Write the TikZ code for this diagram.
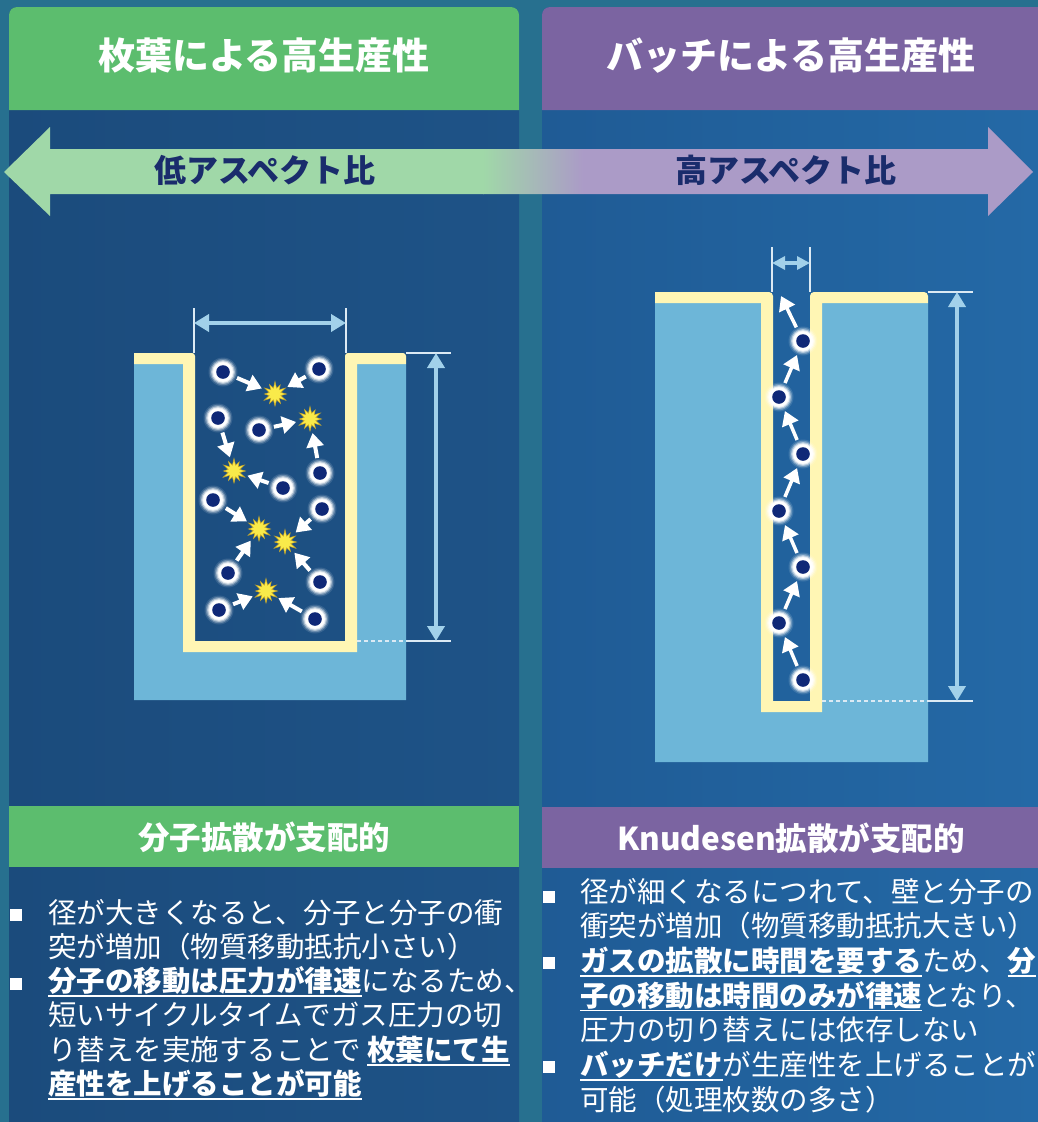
\documentclass[tikz,border=0pt]{standalone}
\usepackage{fontspec}
\setmainfont{Noto Sans CJK JP}
\usetikzlibrary{arrows.meta}

\definecolor{bgC}{HTML}{27708F}
\definecolor{lpA}{HTML}{1B4B7C}
\definecolor{lpB}{HTML}{1E5387}
\definecolor{rpA}{HTML}{1F5B95}
\definecolor{rpB}{HTML}{2469A6}
\definecolor{grnC}{HTML}{5CBD6E}
\definecolor{purC}{HTML}{7B64A1}
\definecolor{arrG}{HTML}{A0D8A8}
\definecolor{arrP}{HTML}{AB9BC7}
\definecolor{navyC}{HTML}{1A2C6C}
\definecolor{subC}{HTML}{6DB6D8}
\definecolor{creamC}{HTML}{FFF6B4}
\definecolor{dimC}{HTML}{A2D1EA}
\definecolor{extC}{HTML}{DCEAF4}
\definecolor{molC}{HTML}{0F2877}
\definecolor{starY}{HTML}{F9EA4A}
\definecolor{starE}{HTML}{C9A626}

% bold, underlined emphasis
\newsavebox\hlbox
\newcommand\hl[1]{\sbox\hlbox{\bfseries #1}\rlap{\rule[-5.3pt]{\wd\hlbox}{1.6pt}}\usebox\hlbox}

\begin{document}
\begin{tikzpicture}[x=1pt,y=-1pt,
  hdr/.style={anchor=base, text=white, inner sep=0pt, font=\bfseries\fontsize{37}{44}\selectfont},
  lbl/.style={anchor=base, text=navyC, inner sep=0pt, font=\bfseries\fontsize{32}{38}\selectfont},
  sub/.style={anchor=base, text=white, inner sep=0pt, font=\bfseries\fontsize{31.5}{38}\selectfont},
  body/.style={anchor=base west, text=white, inner sep=0pt, font=\fontsize{28.5}{34}\selectfont},
  bullet/.style={fill=white, minimum size=11.5pt, inner sep=0pt},
  mol/.style={circle, inner sep=0pt, minimum size=30pt, path picture={
    \foreach \r/\o in {14.5/0.12,13.2/0.25,12/0.45,10.8/0.7,9.8/1}{
      \fill[white, opacity=\o] (path picture bounding box.center) circle[radius=\r];}
    \fill[molC] (path picture bounding box.center) circle[radius=6.8];}},
  starb/.style={circle, inner sep=0pt, minimum size=28pt, path picture={
    \fill[starY, draw=starE, line width=0.5pt, shift={(path picture bounding box.center)}]
      (90:12) \foreach \k/\r in {1/6,2/11,3/6,4/12.5,5/6,6/10.5,7/6,8/12,9/6,10/11,11/6,12/12.5,13/6,14/10.5,15/6,16/12,17/6,18/11.5,19/6,20/12.5,21/6,22/11,23/6}{ -- ({90+\k*15}:\r) } -- cycle;}},
  molarr/.style={draw=white, line width=4pt, -{Triangle[width=17pt,length=14pt]}},
  dimarr/.style={draw=dimC, line width=4pt, {Triangle[width=17pt,length=15pt]}-{Triangle[width=17pt,length=15pt]}},
  dimsm/.style={draw=dimC, line width=3.5pt, {Triangle[width=13pt,length=13pt]}-{Triangle[width=13pt,length=13pt]}},
  ext/.style={draw=extC, line width=1.2pt},
  extd/.style={ext, dash pattern=on 4pt off 3pt}
]
\useasboundingbox (0,0) rectangle (1038,1122);

% background and the two columns
\fill[bgC] (0,0) rectangle (1038,1122);
\shade[left color=lpA, right color=lpB] (9,1122) [rounded corners=8pt] -- (9,7) -- (519,7) -- (519,60) [sharp corners] -- (519,1122) -- cycle;
\shade[left color=rpA, right color=rpB] (1038,1122) -- (1038,7) [rounded corners=8pt] -- (542,7) -- (542,60) [sharp corners] -- (542,1122) -- cycle;
\fill[grnC] (9,110) [rounded corners=8pt] -- (9,7) -- (519,7) -- (519,60) [sharp corners] -- (519,110) -- cycle;
\fill[purC] (1038,110) -- (1038,7) [rounded corners=8pt] -- (542,7) -- (542,60) [sharp corners] -- (542,110) -- cycle;
\fill[grnC] (9,806) rectangle (519,867);
\fill[purC] (542,807) rectangle (1038,868);

\node[hdr] (hl) at (264,69) {枚葉による高生産性};
\node[hdr] (hr) at (791,69) {バッチによる高生産性};

% aspect-ratio double arrow, green fading into purple
\begin{scope}
  \clip (4,172) -- (50,127) -- (50,149) -- (988,149) -- (988,127) -- (1033,172)
        -- (988,216) -- (988,194) -- (50,194) -- (50,216) -- cycle;
  \fill[arrG] (0,120) rectangle (483.5,225);
  \shade[left color=arrG, right color=arrP] (483,120) rectangle (583,225);
  \fill[arrP] (582.5,120) rectangle (1038,225);
\end{scope}
\node[lbl] (al) at (265,182) {低アスペクト比};
\node[lbl] (ar) at (786,182) {高アスペクト比};

% ---------- wide trench ----------
\fill[subC] (134,364) -- (183,364) -- (183,652) -- (357,652) -- (357,364) -- (406,364)
            -- (406,700) -- (134,700) -- cycle;
\fill[creamC] (134,353) [rounded corners=3pt] -- (195,353) -- (195,400) [sharp corners]
   -- (195,641) -- (345,641) [rounded corners=3pt] -- (345,400) -- (345,353) -- (406,353)
   [sharp corners] -- (406,364) -- (357,364) -- (357,652) -- (183,652) -- (183,364)
   -- (134,364) -- cycle;

\coordinate (lwt1) at (194,308); \coordinate (lwb1) at (194,353);
\coordinate (lwt2) at (346,308); \coordinate (lwb2) at (346,353);
\coordinate (lwa1) at (194,323); \coordinate (lwa2) at (346,323);
\draw[ext] (lwt1) -- (lwb1);
\draw[ext] (lwt2) -- (lwb2);
\draw[dimarr] (lwa1) -- (lwa2);

\coordinate (ldt0) at (406,353); \coordinate (ldt1) at (451,353);
\coordinate (ldb0) at (357,641); \coordinate (ldb1) at (406,641); \coordinate (ldb2) at (451,641);
\coordinate (lda1) at (436,353); \coordinate (lda2) at (436,641);
\draw[ext] (ldt0) -- (ldt1);
\draw[extd] (ldb0) -- (ldb1);
\draw[ext] (ldb1) -- (ldb2);
\draw[dimarr] (lda1) -- (lda2);

\node[starb] (s1) at (275,394) {};
\node[starb] (s2) at (310,419) {};
\node[starb] (s3) at (234,471) {};
\node[starb] (s4) at (259,529) {};
\node[starb] (s5) at (285,542) {};
\node[starb] (s6) at (266,591) {};

\node[mol] (a1) at (223,372) {};
\node[mol] (a2) at (319,369) {};
\node[mol] (a3) at (218,418) {};
\node[mol] (a4) at (259,430) {};
\node[mol] (a5) at (320,473) {};
\node[mol] (a6) at (283,488) {};
\node[mol] (a7) at (213,500) {};
\node[mol] (a8) at (322,509) {};
\node[mol] (a9) at (228,573) {};
\node[mol] (a10) at (320,582) {};
\node[mol] (a11) at (219,610) {};
\node[mol] (a12) at (315,619) {};

\draw[molarr] (a1) -- (s1);
\draw[molarr] (a2) -- (s1);
\draw[molarr] (a3) -- (s3);
\draw[molarr] (a4) -- (s2);
\draw[molarr] (a5) -- (s2);
\draw[molarr] (a6) -- (s3);
\draw[molarr] (a7) -- (s4);
\draw[molarr] (a8) -- (s5);
\draw[molarr] (a9) -- (s4);
\draw[molarr] (a10) -- (s5);
\draw[molarr] (a11) -- (s6);
\draw[molarr] (a12) -- (s6);

% ---------- narrow trench ----------
\fill[subC] (655,303) -- (761,303) -- (761,712) -- (822,712) -- (822,303) -- (928,303)
            -- (928,762) -- (655,762) -- cycle;
\fill[creamC] (655,292) [rounded corners=4pt] -- (773,292) -- (773,400) [sharp corners]
   -- (773,701) -- (810,701) [rounded corners=4pt] -- (810,400) -- (810,292) -- (928,292)
   [sharp corners] -- (928,303) -- (822,303) -- (822,712) -- (761,712) -- (761,303)
   -- (655,303) -- cycle;

\coordinate (rwt1) at (772,247); \coordinate (rwb1) at (772,292);
\coordinate (rwt2) at (810,247); \coordinate (rwb2) at (810,292);
\coordinate (rwa1) at (772,263); \coordinate (rwa2) at (810,263);
\draw[ext] (rwt1) -- (rwb1);
\draw[ext] (rwt2) -- (rwb2);
\draw[dimsm] (rwa1) -- (rwa2);

\coordinate (rdt0) at (928,292); \coordinate (rdt1) at (973,292);
\coordinate (rdb0) at (822,701); \coordinate (rdb1) at (928,701); \coordinate (rdb2) at (973,701);
\coordinate (rda1) at (957,292); \coordinate (rda2) at (957,701);
\draw[ext] (rdt0) -- (rdt1);
\draw[extd] (rdb0) -- (rdb1);
\draw[ext] (rdb1) -- (rdb2);
\draw[dimarr] (rda1) -- (rda2);

\node[mol] (b1) at (803,680) {};
\node[mol] (b2) at (779,623) {};
\node[mol] (b3) at (803,567) {};
\node[mol] (b4) at (779,511) {};
\node[mol] (b5) at (803,454) {};
\node[mol] (b6) at (779,397) {};
\node[mol] (b7) at (803,341) {};
\coordinate (bexit) at (781,296);

\draw[molarr, line width=3.5pt] (b1) -- (b2);
\draw[molarr, line width=3.5pt] (b2) -- (b3);
\draw[molarr, line width=3.5pt] (b3) -- (b4);
\draw[molarr, line width=3.5pt] (b4) -- (b5);
\draw[molarr, line width=3.5pt] (b5) -- (b6);
\draw[molarr, line width=3.5pt] (b6) -- (b7);
\draw[molarr, line width=3.5pt] (b7) -- (bexit);

% ---------- lower captions ----------
\node[sub] (cl) at (264,849) {分子拡散が支配的};
\node[sub] (cr) at (791,850) {Knudesen拡散が支配的};

\node[bullet] (lb1) at (16,915) {};
\node[bullet] (lb2) at (16,984) {};
\node[body] (l1) at (48,923) {径が大きくなると、分子と分子の衝};
\node[body] (l2) at (48,957.3) {突が増加（物質移動抵抗小さい）};
\node[body] (l3) at (48,991.6) {\hl{分子の移動は圧力が律速}になるため、};
\node[body] (l4) at (48,1025.9) {短いサイクルタイムでガス圧力の切};
\node[body] (l5) at (48,1060.2) {り替えを実施することで \hl{枚葉にて生}};
\node[body] (l6) at (48,1094.5) {\hl{産性を上げることが可能}};

\node[bullet] (rb1) at (549,897) {};
\node[bullet] (rb2) at (549,963) {};
\node[bullet] (rb3) at (549,1067) {};
\node[body] (r1) at (580,902) {径が細くなるにつれて、壁と分子の};
\node[body] (r2) at (580,936.7) {衝突が増加（物質移動抵抗大きい）};
\node[body] (r3) at (580,971.3) {\hl{ガスの拡散に時間を要する}ため、\hl{分}};
\node[body] (r4) at (580,1006) {\hl{子の移動は時間のみが律速}となり、};
\node[body] (r5) at (580,1040.7) {圧力の切り替えには依存しない};
\node[body] (r6) at (580,1075.3) {\hl{バッチだけ}が生産性を上げることが};
\node[body] (r7) at (580,1110) {可能（処理枚数の多さ）};
\end{tikzpicture}
\end{document}
